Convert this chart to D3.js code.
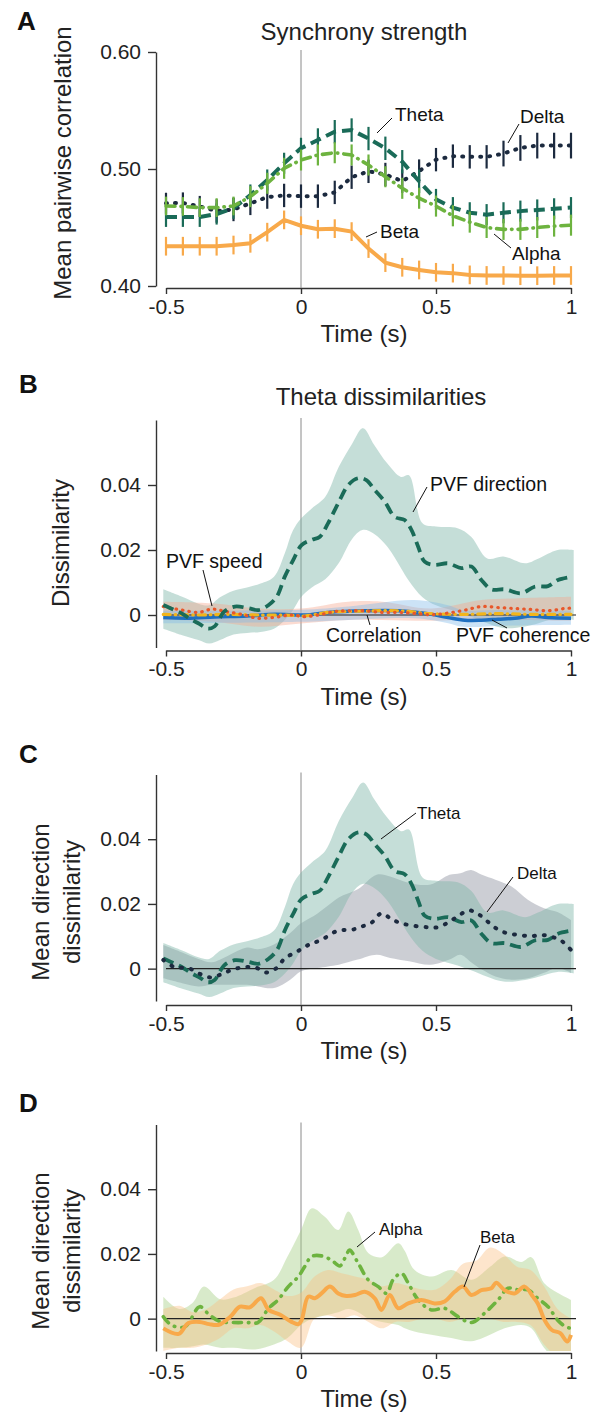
<!DOCTYPE html>
<html>
<head>
<meta charset="utf-8">
<script src="https://cdn.jsdelivr.net/npm/d3@7"></script>
<style>
  body { margin: 0; background: #fff; }
  svg { display: block; font-family: "Liberation Sans", Arial, sans-serif; }
  .tick text { font-size: 21px; fill: #222; }
  .domain, .tick line { stroke: #333; stroke-width: 1.4; }
</style>
</head>
<body>
<div id="figure"></div>
<script>
// ---- data ----

// panel A: mean pairwise correlation, one point every 62.5 ms
const timeA = [-0.5, -0.4375, -0.375, -0.3125, -0.25, -0.1875, -0.125, -0.0625, 0, 0.0625, 0.125, 0.1875, 0.25,
  0.3125, 0.375, 0.4375, 0.5, 0.5625, 0.625, 0.6875, 0.75, 0.8125, 0.875, 0.9375, 1]
const deltaA = [0.4707, 0.471, 0.468, 0.4641, 0.4654, 0.4706, 0.476, 0.4774, 0.4768, 0.4768, 0.480, 0.493, 0.498,
  0.4953, 0.4896, 0.4982, 0.508, 0.511, 0.5104, 0.5104, 0.5132, 0.518, 0.520, 0.520, 0.520]
const thetaA = [0.459, 0.459, 0.459, 0.4615, 0.4664, 0.4778, 0.4906, 0.5049, 0.5177, 0.5248, 0.5319, 0.5333, 0.526,
  0.5177, 0.5062, 0.4895, 0.474, 0.467, 0.4626, 0.461, 0.4626, 0.464, 0.465, 0.466, 0.467]
const alphaA = [0.4684, 0.468, 0.467, 0.467, 0.4684, 0.4764, 0.4878, 0.5006, 0.5077, 0.512, 0.5139, 0.512, 0.5034,
  0.4934, 0.4835, 0.475, 0.4683, 0.46, 0.4546, 0.45, 0.4484, 0.4484, 0.45, 0.4512, 0.452]
const betaA = [0.434, 0.434, 0.434, 0.434, 0.435, 0.4365, 0.446, 0.4565, 0.4515, 0.4485, 0.449, 0.4465, 0.432,
  0.420, 0.416, 0.4137, 0.4117, 0.411, 0.4095, 0.409, 0.409, 0.4088, 0.4088, 0.409, 0.409]
// half length of the error bars
const deltaErrA = [0.009, 0.009, 0.009, 0.010, 0.010, 0.010, 0.010, 0.010, 0.010, 0.010, 0.010, 0.010, 0.010,
  0.010, 0.010, 0.010, 0.010, 0.010, 0.010, 0.010, 0.011, 0.011, 0.011, 0.011, 0.011]
const thetaErrA = [0.0085, 0.0085, 0.0085, 0.009, 0.009, 0.009, 0.009, 0.009, 0.009, 0.010, 0.010, 0.010, 0.010,
  0.010, 0.010, 0.010, 0.009, 0.009, 0.009, 0.009, 0.009, 0.009, 0.009, 0.009, 0.009]
const alphaErrA = [0.008, 0.008, 0.008, 0.008, 0.008, 0.009, 0.009, 0.009, 0.009, 0.009, 0.009, 0.009, 0.009,
  0.009, 0.009, 0.009, 0.009, 0.009, 0.009, 0.009, 0.009, 0.009, 0.009, 0.009, 0.009]
const betaErrA = [0.008, 0.008, 0.008, 0.008, 0.008, 0.008, 0.008, 0.008, 0.008, 0.008, 0.008, 0.008, 0.008,
  0.008, 0.008, 0.008, 0.008, 0.008, 0.008, 0.008, 0.008, 0.008, 0.008, 0.008, 0.008]

// panel B / C: theta PVF direction dissimilarity [time, mean]
const thetaDir = [[-0.51, 0.0031], [-0.475, 0.0018], [-0.442, 0.0005], [-0.41, -0.0012], [-0.375, -0.0028],
  [-0.345, -0.0042], [-0.32, -0.0035], [-0.3, -0.0008], [-0.282, 0.0012], [-0.245, 0.0026], [-0.195, 0.0021],
  [-0.158, 0.0015], [-0.121, 0.003], [-0.09, 0.0056], [-0.06, 0.0118], [-0.029, 0.0169], [0.002, 0.0215],
  [0.039, 0.0231], [0.07, 0.0241], [0.1, 0.0282], [0.138, 0.0344], [0.175, 0.04], [0.212, 0.0421], [0.242, 0.0415],
  [0.273, 0.0385], [0.31, 0.0349], [0.347, 0.0302], [0.384, 0.0292], [0.409, 0.0262], [0.434, 0.021],
  [0.458, 0.0164], [0.495, 0.0154], [0.545, 0.0159], [0.594, 0.0144], [0.631, 0.0149], [0.668, 0.0108],
  [0.705, 0.0079], [0.754, 0.0079], [0.816, 0.0067], [0.865, 0.0087], [0.915, 0.0089], [0.952, 0.0108], [1.005, 0.0118]]
// [time, lower, upper]
const thetaDirBand = [[-0.51, -0.0042, 0.0079], [-0.44, -0.0062, 0.0056], [-0.38, -0.0077, 0.0035],
  [-0.34, -0.0088, 0.003], [-0.3, -0.0077, 0.0055], [-0.25, -0.006, 0.0075], [-0.2, -0.0055, 0.0085],
  [-0.15, -0.0052, 0.0097], [-0.1, -0.0042, 0.0118], [-0.06, -0.0015, 0.019], [-0.03, 0.0015, 0.026],
  [0.0, 0.0055, 0.0297], [0.04, 0.0085, 0.0328], [0.09, 0.011, 0.0364], [0.14, 0.016, 0.0456], [0.19, 0.0235, 0.0528],
  [0.23, 0.0262, 0.0575], [0.27, 0.025, 0.0525], [0.32, 0.021, 0.0466], [0.37, 0.0145, 0.0425], [0.4, 0.0105, 0.043],
  [0.45, 0.0055, 0.0282], [0.5, 0.003, 0.0272], [0.58, 0.001, 0.0267], [0.63, -0.0005, 0.0241],
  [0.69, -0.0025, 0.0174], [0.75, -0.004, 0.018], [0.83, -0.0035, 0.0159], [0.88, -0.0025, 0.0174],
  [0.95, -0.001, 0.02], [1.01, -0.0015, 0.02]]

// panel B: the other theta dissimilarities
const speedB = [[-0.51, 0.0026], [-0.44, 0.0015], [-0.38, 0.0008], [-0.33, 0.0018], [-0.28, 0.0011], [-0.22, 0.0002],
  [-0.16, -0.001], [-0.097, -0.0007], [-0.035, 0], [0.015, -0.0005], [0.076, 0.0002], [0.126, 0.0011], [0.175, 0.0013],
  [0.237, 0.0013], [0.298, 0.0008], [0.36, 0.0008], [0.421, 0.0005], [0.483, 0.0001], [0.545, 0.0006],
  [0.607, 0.0015], [0.668, 0.0026], [0.73, 0.0023], [0.792, 0.002], [0.853, 0.0017], [0.915, 0.0013],
  [0.977, 0.002], [1.0, 0.0021]]
const speedBandB = [[-0.51, -0.0015, 0.0041], [-0.33, -0.002, 0.0036], [-0.16, -0.0036, 0.002], [0.0, -0.0026, 0.002],
  [0.175, -0.0015, 0.0041], [0.3, -0.0015, 0.0041], [0.483, -0.0018, 0.002], [0.668, -0.0013, 0.0046],
  [0.792, -0.0015, 0.0051], [1.0, -0.0018, 0.0056]]
const corrB = [[-0.51, 0.0002], [-0.38, 0], [-0.28, 0.0002], [-0.16, 0], [-0.035, -0.0001], [0.015, -0.0003],
  [0.1, 0.0008], [0.237, 0.0012], [0.36, 0.0013], [0.483, 0.0004], [0.607, 0.0002], [0.73, 0.0004],
  [0.853, 0.0002], [1.0, 0.0002]]
const coherB = [[-0.51, -0.0008], [-0.42, -0.001], [-0.32, -0.0006], [-0.2, -0.0003], [-0.097, 0.0002], [0.015, 0],
  [0.1, 0.0008], [0.237, 0.0013], [0.36, 0.0013], [0.483, 0.0002], [0.545, -0.0008], [0.607, -0.0016],
  [0.668, -0.0016], [0.73, -0.0013], [0.792, -0.001], [0.853, -0.0003], [0.915, -0.0008], [1.0, -0.001]]
const coherBandB = [[-0.51, -0.0026, 0.0013], [0.0, -0.0021, 0.0016], [0.175, -0.0015, 0.0026], [0.42, -0.001, 0.0046],
  [0.545, -0.0025, 0.003], [0.6, -0.0036, 0.0015], [0.75, -0.0033, 0.0015], [1.0, -0.003, 0.0013]]

// panel C: delta direction dissimilarity
const deltaDir = [[-0.51, 0.0027], [-0.467, 0.0004], [-0.418, 0.0002], [-0.38, -0.0014], [-0.337, -0.0027],
  [-0.3, -0.0019], [-0.257, -0.0004], [-0.214, 0.0004], [-0.17, 0.0004], [-0.127, -0.0012], [-0.09, 0.0002],
  [-0.06, 0.0032], [-0.016, 0.0052], [0.027, 0.0073], [0.076, 0.0089], [0.138, 0.0118], [0.187, 0.012],
  [0.224, 0.013], [0.261, 0.0142], [0.298, 0.0171], [0.335, 0.0153], [0.372, 0.014], [0.421, 0.0132], [0.47, 0.0128],
  [0.507, 0.0128], [0.55, 0.0145], [0.587, 0.0166], [0.624, 0.018], [0.661, 0.0166], [0.692, 0.0145],
  [0.729, 0.0121], [0.766, 0.0109], [0.809, 0.0104], [0.852, 0.01], [0.889, 0.0104], [0.926, 0.0099],
  [0.963, 0.0087], [1.0, 0.0058]]
const deltaDirBand = [[-0.51, -0.003, 0.0073], [-0.44, -0.0045, 0.005], [-0.38, -0.0055, 0.003], [-0.33, -0.005, 0.002],
  [-0.27, -0.005, 0.004], [-0.2, -0.005, 0.0065], [-0.16, -0.0055, 0.006], [-0.1, -0.006, 0.0075],
  [-0.04, -0.0034, 0.011], [0.0, -0.0008, 0.014], [0.06, 0.0002, 0.017], [0.1, 0.0007, 0.0195], [0.14, 0.0012, 0.022],
  [0.21, 0.0028, 0.0245], [0.28, 0.0043, 0.029], [0.33, 0.0033, 0.0285], [0.4, 0.0023, 0.0265], [0.48, 0.0012, 0.026],
  [0.55, 0.0028, 0.029], [0.59, 0.0043, 0.0295], [0.63, 0.002, 0.0305], [0.67, -0.0003, 0.029],
  [0.72, -0.0024, 0.0275], [0.78, -0.0034, 0.0254], [0.84, -0.003, 0.0213], [0.9, -0.0013, 0.0187],
  [0.95, 0.0002, 0.0175], [1.0, -0.0013, 0.015]]

// panel D: alpha and beta direction dissimilarity
const alphaDir = [[-0.51, 0.0006], [-0.48, -0.002], [-0.43, -0.0025], [-0.375, 0.0037], [-0.34, 0.0012],
  [-0.3, -0.0009], [-0.25, -0.0012], [-0.2, -0.0012], [-0.16, -0.0012], [-0.12, 0.0032], [-0.085, 0.0058],
  [-0.047, 0.0099], [-0.01, 0.013], [0.014, 0.0161], [0.039, 0.0192], [0.076, 0.0194], [0.113, 0.0181],
  [0.144, 0.0163], [0.168, 0.0197], [0.18, 0.0212], [0.212, 0.0171], [0.249, 0.012], [0.286, 0.0099],
  [0.317, 0.0078], [0.341, 0.012], [0.372, 0.014], [0.397, 0.011], [0.434, 0.0058], [0.483, 0.0027],
  [0.532, 0.0032], [0.582, 0.0006], [0.631, -0.0012], [0.68, 0.0017], [0.73, 0.0058], [0.767, 0.0094],
  [0.804, 0.0089], [0.841, 0.0089], [0.878, 0.0062], [0.915, 0.0037], [0.95, -0.0004], [0.98, -0.0025], [1.0, -0.003]]
const alphaDirBand = [[-0.51, -0.009, 0.0068], [-0.45, -0.009, 0.003], [-0.4, -0.0085, 0.005], [-0.36, -0.008, 0.0099],
  [-0.3, -0.009, 0.006], [-0.25, -0.009, 0.0065], [-0.17, -0.0095, 0.0095], [-0.1, -0.008, 0.012],
  [-0.05, -0.006, 0.0192], [0.0, -0.002, 0.0274], [0.04, 0.0, 0.0341], [0.088, 0.001, 0.0315], [0.138, 0.002, 0.0274],
  [0.175, 0.003, 0.0331], [0.212, 0.002, 0.0274], [0.25, 0.0, 0.0202], [0.3, -0.001, 0.019], [0.36, -0.002, 0.0233],
  [0.384, -0.003, 0.021], [0.42, -0.004, 0.0151], [0.483, -0.005, 0.013], [0.557, -0.006, 0.015],
  [0.631, -0.007, 0.012], [0.7, -0.005, 0.016], [0.754, -0.003, 0.0192], [0.816, -0.002, 0.0175],
  [0.853, -0.003, 0.019], [0.9, -0.009, 0.011], [0.95, -0.013, 0.008], [1.0, -0.013, 0.0058]]
const betaDir = [[-0.51, -0.003], [-0.453, -0.0047], [-0.418, -0.0014], [-0.375, -0.001], [-0.34, -0.0017],
  [-0.304, -0.0019], [-0.262, 0.0006], [-0.226, 0.0037], [-0.19, 0.0035], [-0.148, 0.0063], [-0.12, 0.0027],
  [-0.077, 0.0012], [-0.035, -0.001], [-0.01, -0.0017], [0.002, -0.0005], [0.027, 0.0068], [0.051, 0.0063],
  [0.076, 0.0078], [0.107, 0.0099], [0.138, 0.0078], [0.168, 0.007], [0.2, 0.0073], [0.236, 0.0083],
  [0.273, 0.0063], [0.298, 0.0027], [0.329, 0.0073], [0.36, 0.0032], [0.397, 0.0047], [0.446, 0.0058],
  [0.495, 0.0047], [0.532, 0.0053], [0.569, 0.0083], [0.6, 0.0099], [0.631, 0.0073], [0.668, 0.0088],
  [0.705, 0.0094], [0.723, 0.0111], [0.754, 0.0088], [0.791, 0.0078], [0.828, 0.0099], [0.859, 0.0068],
  [0.877, 0.0047], [0.902, -0.0004], [0.929, -0.0035], [0.96, -0.0045], [0.986, -0.0071], [1.0, -0.005]]
const betaDirBand = [[-0.51, -0.01, 0.003], [-0.45, -0.009, 0.004], [-0.4, -0.009, 0.002], [-0.35, -0.008, 0.003],
  [-0.3, -0.006, 0.006], [-0.25, -0.003, 0.009], [-0.2, -0.003, 0.01], [-0.15, -0.002, 0.011], [-0.1, -0.004, 0.009],
  [-0.05, -0.007, 0.007], [0.0, -0.009, 0.008], [0.05, 0.0, 0.013], [0.1, 0.001, 0.015], [0.15, 0.0, 0.014],
  [0.2, 0.001, 0.013], [0.25, -0.001, 0.012], [0.3, -0.003, 0.01], [0.35, -0.001, 0.011], [0.4, -0.001, 0.01],
  [0.45, 0.0, 0.009], [0.5, 0.0, 0.009], [0.55, -0.001, 0.012], [0.6, 0.0, 0.017], [0.65, 0.0, 0.018],
  [0.7, 0.0, 0.022], [0.75, -0.001, 0.02], [0.8, -0.001, 0.016], [0.85, -0.002, 0.015], [0.9, -0.008, 0.01],
  [0.95, -0.012, 0.003], [1.0, -0.014, 0.0]]

// tick labels
const timeTicks = [-0.5, 0, 0.5, 1]
const corrTicks = [0.40, 0.50, 0.60]
const dissimTicks = [0, 0.02, 0.04]

// colours
const cTheta = "#1a6b58", cDelta = "#1c2a3f", cAlpha = "#6db33f", cBeta = "#f8a94a"

// ---- drawing ----

const svg = d3.select("#figure")
  .append("svg")
  .attr("width", 601)
  .attr("height", 1414)

const x = d3.scaleLinear().domain([-0.5, 1]).range([166, 571])

// axes for one panel
function drawAxes(y, ticks, fmt, axisY) {
  svg.append("g")
    .attr("transform", `translate(0,${axisY})`)
    .call(d3.axisBottom(x).tickValues(timeTicks).tickFormat(d => String(d))
      .tickSize(6).tickPadding(5).tickSizeOuter(0))
  svg.append("g")
    .attr("transform", "translate(156,0)")
    .call(d3.axisLeft(y).tickValues(ticks).tickFormat(fmt)
      .tickSize(8).tickPadding(7).tickSizeOuter(0))
  // stimulus onset
  svg.append("line")
    .attr("x1", x(0)).attr("x2", x(0))
    .attr("y1", y.range()[1] - 2).attr("y2", axisY)
    .attr("stroke", "#8a8a8a").attr("stroke-width", 1)
  svg.append("text")
    .attr("x", 364).attr("y", axisY + 54)
    .attr("text-anchor", "middle")
    .style("font-size", "24px").attr("fill", "#222")
    .text("Time (s)")
}

function panelLetter(txt, px, py) {
  svg.append("text").attr("x", px).attr("y", py)
    .style("font-size", "26px").style("font-weight", "bold").attr("fill", "#111")
    .text(txt)
}

function yLabel(lines, cx, cy, gap) {
  lines.forEach((l, i) => {
    svg.append("text")
      .attr("transform", `translate(${cx + i * gap},${cy}) rotate(-90)`)
      .attr("text-anchor", "middle")
      .attr("dominant-baseline", "central")
      .style("font-size", "24px").attr("fill", "#222")
      .text(l)
  })
}

// annotation text with a leader line
function note(txt, tx, ty, size, lx1, ly1, lx2, ly2) {
  svg.append("line")
    .attr("x1", lx1).attr("y1", ly1).attr("x2", lx2).attr("y2", ly2)
    .attr("stroke", "#111").attr("stroke-width", 1)
  svg.append("text")
    .attr("x", tx).attr("y", ty)
    .attr("dominant-baseline", "central")
    .style("font-size", size + "px").attr("fill", "#111")
    .text(txt)
}

function clipFor(id, y) {
  svg.append("clipPath").attr("id", id)
    .append("rect")
    .attr("x", 150).attr("y", y.range()[1])
    .attr("width", 440).attr("height", y.range()[0] - y.range()[1])
  return `url(#${id})`
}

function band(g, y, data, fill, op) {
  g.append("path")
    .datum(data)
    .attr("d", d3.area().x(d => x(d[0])).y0(d => y(d[1])).y1(d => y(d[2]))
      .curve(d3.curveCatmullRom.alpha(0.5)))
    .attr("fill", fill).attr("fill-opacity", op)
}

function curve(g, y, data, color, width, dash, cap) {
  g.append("path")
    .datum(data)
    .attr("d", d3.line().x(d => x(d[0])).y(d => y(d[1])).curve(d3.curveCatmullRom.alpha(0.5)))
    .attr("fill", "none")
    .attr("stroke", color).attr("stroke-width", width)
    .attr("stroke-dasharray", dash)
    .attr("stroke-linecap", cap || "butt")
    .attr("stroke-linejoin", "round")
}

function zeroLine(g, y) {
  g.append("line")
    .attr("x1", 166).attr("x2", 576)
    .attr("y1", y(0)).attr("y2", y(0))
    .attr("stroke", "#222").attr("stroke-width", 1.2)
}

const dissimFmt = d => d === 0 ? "0" : d3.format(".2f")(d)

// ---- panel A ----
const yA = d3.scaleLinear().domain([0.40, 0.60]).range([286, 52])
panelLetter("A", 17, 30)
svg.append("text").attr("x", 364).attr("y", 40).attr("text-anchor", "middle")
  .style("font-size", "24px").attr("fill", "#222").text("Synchrony strength")
drawAxes(yA, corrTicks, d3.format(".2f"), 288)
yLabel(["Mean pairwise correlation"], 62, 163, 0)

const gA = svg.append("g")
const seriesA = [
  { vals: betaA, err: betaErrA, color: cBeta, dash: null, cap: "butt", w: 4 },
  { vals: deltaA, err: deltaErrA, color: cDelta, dash: "1,8", cap: "round", w: 4 },
  { vals: thetaA, err: thetaErrA, color: cTheta, dash: "11,6", cap: "butt", w: 4 },
  { vals: alphaA, err: alphaErrA, color: cAlpha, dash: "9,6,0.5,6", cap: "round", w: 3.6 }
]
seriesA.forEach(s => {
  const pts = timeA.map((t, i) => [t, s.vals[i]])
  gA.append("path")
    .datum(pts)
    .attr("d", d3.line().x(d => x(d[0])).y(d => yA(d[1])))
    .attr("fill", "none").attr("stroke", s.color).attr("stroke-width", s.w)
    .attr("stroke-dasharray", s.dash).attr("stroke-linecap", s.cap)
  gA.selectAll(null)
    .data(pts)
    .join("line")
    .attr("x1", d => x(d[0])).attr("x2", d => x(d[0]))
    .attr("y1", (d, i) => yA(d[1] - s.err[i]))
    .attr("y2", (d, i) => yA(d[1] + s.err[i]))
    .attr("stroke", s.color).attr("stroke-width", 2.2)
})
note("Theta", 395, 114, 19, 392, 118, 377, 133)
note("Delta", 520, 116, 19, 519, 124, 508, 143)
note("Beta", 380, 231, 19, 377, 232, 366, 237)
note("Alpha", 512, 253, 19, 511, 248, 494, 234)

// ---- panel B ----
const yB = d3.scaleLinear().domain([-0.01, 0.06]).range([647.5, 420])
panelLetter("B", 19, 393)
svg.append("text").attr("x", 381).attr("y", 405).attr("text-anchor", "middle")
  .style("font-size", "24px").attr("fill", "#222").text("Theta dissimilarities")
drawAxes(yB, dissimTicks, dissimFmt, 650.5)
yLabel(["Dissimilarity"], 60, 543, 0)
const gB = svg.append("g").attr("clip-path", clipFor("clipB", yB))
band(gB, yB, thetaDirBand, "#7fb5a9", 0.45)
band(gB, yB, speedBandB, "#f4a48c", 0.4)
band(gB, yB, coherBandB, "#7fb8e8", 0.4)
zeroLine(gB, yB)
curve(gB, yB, coherB, "#1f6fc0", 3.5, null)
curve(gB, yB, corrB, "#f2b51c", 3.2, "7,5,0.5,5", "round")
curve(gB, yB, speedB, "#e8572a", 3.2, "0.5,6", "round")
curve(gB, yB, thetaDir, cTheta, 3.8, "11,6")
note("PVF speed", 166, 561, 19.5, 203, 570, 212, 606)
note("PVF direction", 430, 484, 19.5, 427, 487, 413, 512)
note("Correlation", 326, 635, 19.5, 367, 615, 370, 625)
note("PVF coherence", 456, 635, 19.5, 492, 620, 507, 628)

// ---- panel C ----
const yC = d3.scaleLinear().domain([-0.01, 0.06]).range([1001, 774.5])
panelLetter("C", 19, 763)
drawAxes(yC, dissimTicks, dissimFmt, 1005)
yLabel(["Mean direction", "dissimilarity"], 40, 902, 31)
const gC = svg.append("g").attr("clip-path", clipFor("clipC", yC))
band(gC, yC, deltaDirBand, "#8e939f", 0.45)
band(gC, yC, thetaDirBand, "#7fb5a9", 0.45)
zeroLine(gC, yC)
curve(gC, yC, thetaDir, cTheta, 3.8, "11,6")
curve(gC, yC, deltaDir, cDelta, 4, "1,9", "round")
note("Theta", 417, 813, 17, 416, 813, 381, 839)
note("Delta", 517, 873, 17, 513, 877, 487, 912)

// ---- panel D ----
const yD = d3.scaleLinear().domain([-0.01, 0.06]).range([1351, 1124.5])
panelLetter("D", 19, 1112)
drawAxes(yD, dissimTicks, dissimFmt, 1353)
yLabel(["Mean direction", "dissimilarity"], 40, 1251, 31)
const gD = svg.append("g").attr("clip-path", clipFor("clipD", yD))
band(gD, yD, alphaDirBand, "#a8d18a", 0.45)
band(gD, yD, betaDirBand, "#fbbf80", 0.4)
zeroLine(gD, yD)
curve(gD, yD, alphaDir, cAlpha, 3.6, "8,7,0.5,7", "round")
curve(gD, yD, betaDir, cBeta, 4, null)
note("Alpha", 379, 1229, 17, 375, 1232, 357, 1247)
note("Beta", 480, 1237, 17, 480, 1245, 464, 1287)
</script>
</body>
</html>
